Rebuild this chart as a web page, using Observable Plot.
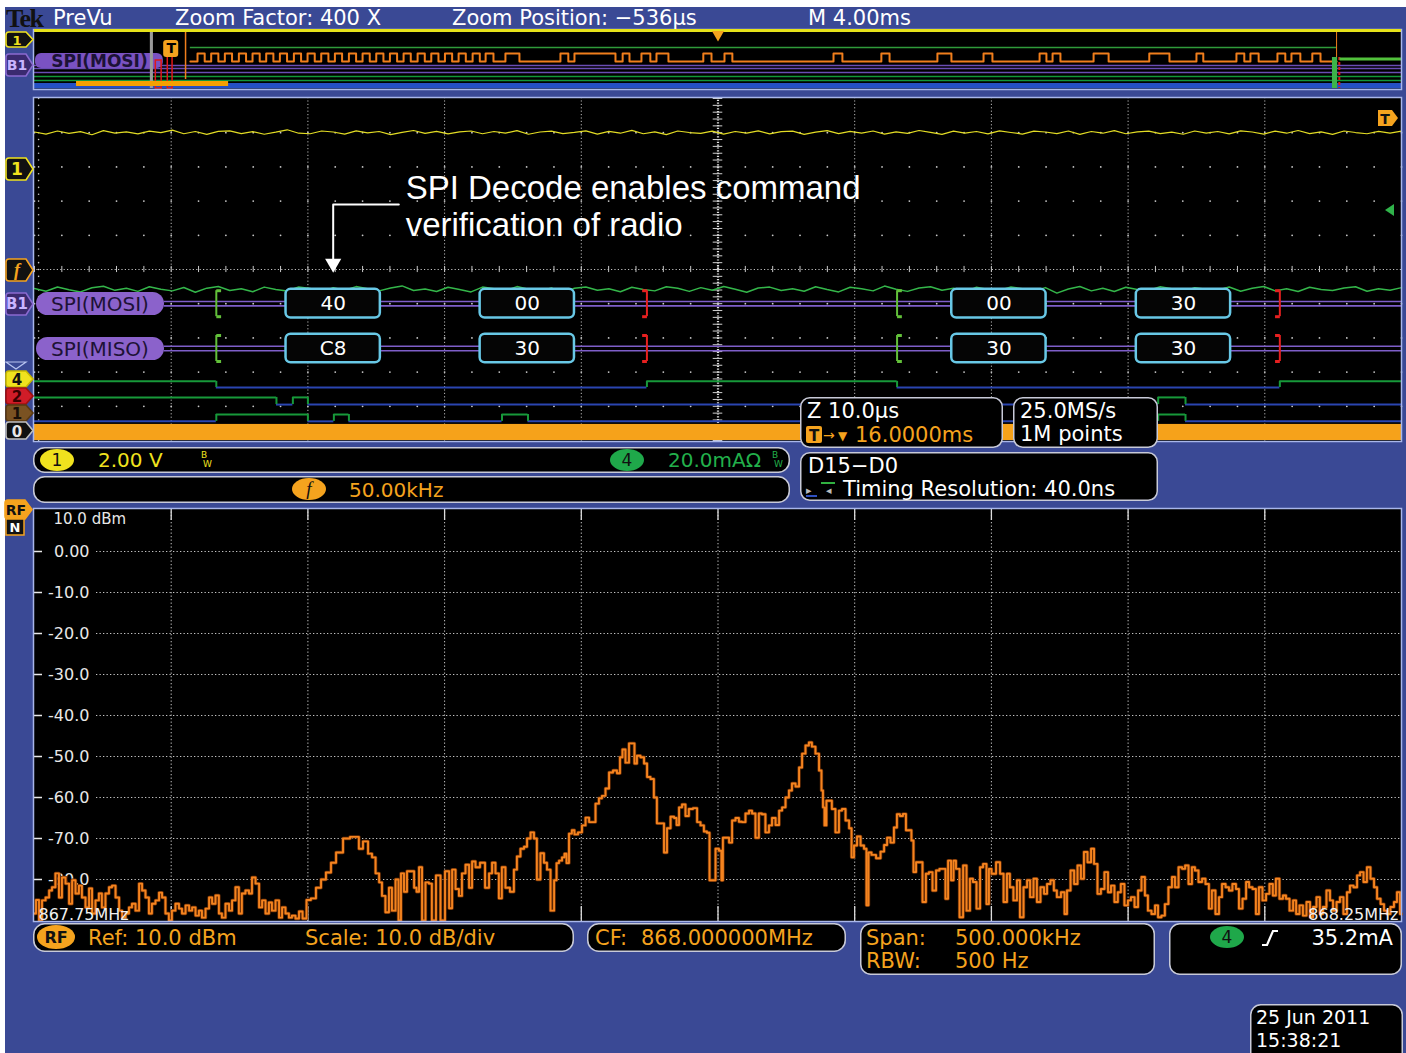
<!DOCTYPE html>
<html><head><meta charset="utf-8">
<script src="https://cdn.jsdelivr.net/npm/d3@7"></script>
<script src="https://cdn.jsdelivr.net/npm/@observablehq/plot@0.6"></script>
<style>
html,body{margin:0;padding:0;background:#fff;}
#screen{position:relative;width:1406px;height:1053px;overflow:hidden;background:#fff;}
#bg{position:absolute;left:5px;top:7px;right:0;bottom:0;background:#3a4995;}
</style></head><body><div id="screen"><div id="bg"></div></div>
<script>
// ---------------- DATA ----------------
// Spectrum trace (offset from 867.75 MHz, kHz) and level (dBm)
const freqOffsetKHz = [
0,1.1,2.2,3.3,4.8,5.9,6.9,8.4,9.5,10.6,
12.1,13.2,14.3,15.7,16.8,17.9,19.4,20.5,21.6,23.0,
24.1,25.2,26.7,27.8,28.9,30.4,31.5,32.6,34.0,35.1,
36.2,37.7,38.8,39.9,41.3,42.4,43.5,45.0,46.1,47.2,
48.6,49.7,50.8,52.3,53.4,54.5,56.0,57.1,58.2,59.6,
60.7,61.8,63.3,64.4,65.5,66.9,68.0,69.1,70.6,71.7,
72.8,74.2,75.3,76.4,77.9,79.0,80.1,81.6,82.7,83.8,
85.2,86.3,87.4,88.9,90.0,91.1,92.5,93.6,94.7,96.2,
97.3,98.8,100.2,102.0,103.9,105.7,107.5,109.4,111.2,114.5,
116.3,118.1,119.2,121.1,122.9,124.0,125.5,126.6,127.6,129.1,
130.2,131.3,132.8,133.5,134.6,135.7,136.8,138.3,139.4,140.1,
141.2,142.3,143.7,144.8,145.9,147.8,149.2,151.1,152.2,153.3,
154.7,155.8,156.9,158.4,159.5,160.6,162.0,163.9,165.7,166.8,
167.9,169.3,170.4,171.5,173.0,174.8,175.9,177.0,178.5,179.6,
180.7,182.2,183.2,184.3,185.8,186.9,188.0,189.5,190.6,191.3,
192.4,193.5,194.2,195.0,196.0,197.1,197.9,199.7,200.8,202.3,
203.4,204.5,205.9,207.0,208.1,209.6,210.7,212.5,213.6,214.7,
215.4,216.9,218.0,219.1,219.8,220.9,222.4,223.5,224.6,226.0,
227.1,228.2,229.7,230.8,231.9,233.4,234.5,235.2,236.3,237.4,
238.8,239.9,241.8,242.9,244.3,245.4,246.5,247.3,248.4,249.8,
250.9,251.6,252.0,253.5,254.6,255.7,257.1,258.2,259.3,260.8,
261.9,263.0,264.4,265.5,266.6,268.1,269.2,270.3,271.8,272.9,
274.0,275.4,276.5,277.6,279.1,280.2,281.3,282.7,283.8,284.9,
286.4,287.5,288.2,288.6,289.3,290.0,291.1,292.2,293.7,294.8,
295.9,297.4,298.5,299.2,300.3,301.4,302.9,303.9,304.7,305.4,
306.9,308.7,310.2,311.3,312.4,313.8,314.9,316.0,317.1,318.2,
319.3,320.4,321.1,321.9,323.0,324.1,325.5,326.6,327.7,329.2,
330.3,331.7,332.8,333.6,334.7,335.8,336.5,337.6,339.1,340.2,
341.6,342.7,343.8,345.3,346.4,347.5,348.9,349.3,350.8,352.6,
353.7,355.2,356.2,357.3,358.8,359.9,361.0,362.5,363.6,364.7,
366.1,367.2,368.7,369.8,370.9,372.3,373.4,374.5,376.4,377.1,
378.2,379.7,380.8,382.2,383.3,384.4,385.9,387.0,388.1,389.5,
390.6,392.1,393.2,394.3,395.7,396.8,397.9,399.4,400.5,401.6,
403.1,404.2,405.6,406.7,407.8,409.3,410.4,411.5,412.9,414.0,
415.5,416.6,417.7,419.2,420.3,421.4,422.8,423.9,425.0,426.5,
427.6,429.0,430.1,431.2,432.7,433.8,434.9,436.4,437.4,438.9,
440.0,441.1,442.6,443.7,444.8,446.2,447.3,448.4,449.9,451.0,
452.4,453.5,454.6,456.1,457.2,458.3,459.8,460.9,462.0,463.4,
464.5,466.0,467.1,468.2,469.6,470.7,471.8,473.3,474.4,475.5,
477.0,478.0,479.5,480.6,481.7,483.2,484.3,485.4,486.8,487.9,
489.4,490.5,491.6,493.1,494.1,495.2,496.7,497.8,498.9,500.0];
const levelDBm = [
-88.3,-85,-90,-85.1,-84.4,-82.7,-81.9,-78.5,-84.4,-79.5,
-81,-85.9,-80.2,-83.4,-81.5,-84.4,-86.8,-82.2,-88.3,-85.1,
-83.4,-86.8,-83.4,-81.9,-81.5,-84.4,-87.6,-89.3,-88.3,-86.8,
-85.9,-87.6,-81,-82.7,-84.4,-88.3,-85.9,-85.1,-83.2,-84.4,
-88.3,-90,-87.6,-85.9,-87.1,-88.3,-86.3,-87.6,-86.8,-88.8,
-87.6,-89.3,-87.1,-84.4,-85.9,-83.9,-88.3,-89.3,-85.9,-87.6,
-85.1,-81.9,-88.3,-83.4,-82.7,-83.4,-79.5,-81,-86.8,-85.1,
-88.3,-85.6,-87.6,-85.1,-89.3,-86.8,-88.3,-89.3,-88.8,-89.5,
-87.8,-89.5,-85,-84.6,-82,-80,-78.3,-75.9,-73.4,-70,
-69.6,-69.6,-72.5,-70.7,-73.7,-74.6,-78.5,-80.7,-84,-88,
-82,-87.6,-80,-90,-78.5,-83,-78,-78,-82,-83,
-77,-90,-80.7,-81,-90,-79,-90,-78,-87,-77.6,
-82.3,-84,-78.5,-76.4,-82,-75.6,-77,-75.9,-82,-78.5,
-75.9,-78.5,-84.6,-77,-82,-83,-77.6,-74.4,-72.5,-72,
-70,-68.5,-70,-80,-73.6,-75.9,-77.6,-87.6,-80.2,-76,
-75.4,-74.6,-73.7,-76,-68.8,-68,-69,-68.5,-66.8,-64.9,
-66,-66,-61.5,-60.2,-59.6,-57.8,-53.9,-53.4,-54.1,-50.2,
-48.3,-51.5,-46.8,-46.8,-51.7,-49.8,-50.2,-51.7,-55,-55.5,
-60,-66.3,-66.3,-73.4,-67.5,-64.7,-65,-66.7,-62.4,-61.7,
-64.5,-62.8,-62.6,-66,-66.8,-68.3,-68.6,-80.2,-80.2,-72.5,
-73,-80.2,-69.8,-69.8,-71,-65.6,-65,-65.9,-66,-63.9,
-63.2,-63.9,-69.8,-63.9,-64.1,-68.5,-66.8,-65,-66.7,-63.2,
-62.4,-60,-58.3,-56.6,-57.3,-52.7,-49.3,-47.3,-46.6,-47.6,
-49.3,-53.4,-58.3,-62.4,-66.8,-60.8,-60.8,-62.8,-68.5,-63.2,
-62.8,-65.6,-67.5,-74.6,-71.7,-69.5,-71.7,-72.5,-86.3,-73.4,
-74,-74.8,-73.2,-71.6,-69.8,-71,-67.3,-64.1,-64.5,-64,
-68,-68,-70.5,-78.2,-75.8,-75.8,-85.5,-78.6,-78.2,-82.7,
-77.8,-77.4,-77.4,-84.7,-75.4,-80.2,-75.4,-77.4,-89.2,-76.6,
-87.6,-79.8,-80.6,-87.1,-77,-76.2,-86,-77.4,-78.6,-75.8,
-78.6,-85.5,-78.6,-81.9,-85.1,-80.2,-89.2,-81.9,-80.2,-84.3,
-79.8,-85.5,-81.9,-83.5,-81.1,-80.2,-82.7,-84.3,-83.1,-88.4,
-82.7,-77.8,-81.1,-76.6,-79.8,-73.3,-75.8,-72.5,-76.2,-83.5,
-82.3,-78.2,-83.1,-81.5,-85.5,-83.1,-81.1,-86.3,-85.1,-84.3,
-86.7,-82.7,-79.4,-83.9,-87.6,-88.4,-86.3,-89.2,-88.8,-86,
-81.9,-79.4,-81.9,-77,-77.4,-76.6,-81.1,-77,-77.8,-80.6,
-79.8,-81.1,-87.1,-82.7,-88.4,-84.3,-81.1,-81.9,-82.7,-81.1,
-82.3,-87.1,-84.7,-80.6,-81.9,-82.3,-88.4,-81.9,-85.1,-83.5,
-81.1,-83.9,-79.8,-84.7,-83.9,-84.7,-87.6,-85.1,-88.4,-86.3,
-88.8,-85.5,-89.2,-86.7,-84.3,-88.4,-86.7,-82.7,-85.1,-87.6,
-85.5,-84.3,-88.4,-83.1,-81.5,-81.9,-79,-78.2,-80.6,-77,
-79.8,-81.9,-84.7,-86,-87.6,-88.4,-86.7,-85.5,-83.1,-88.4];
const spanStartMHz = 867.75, spanStopMHz = 868.25;
const freqGridMHz = [867.80,867.85,867.90,867.95,868.00,868.05,868.10,868.15,868.20];
const dbmTicks = [0,-10,-20,-30,-40,-50,-60,-70,-80];
const dbmTickLabels = ["0.00","-10.0","-20.0","-30.0","-40.0","-50.0","-60.0","-70.0","-80.0"];

// Zoomed time window (µs), 10 µs/div
const packetStartUs = [-31.6,-17.4,17.1,30.6];
const packetEndUs   = [-24.7,-10.5,24.0,37.5];
const mosiValues = ["40","00","00","30"];
const misoValues = ["C8","30","30","30"];
const frameStartUs = [-36.7,13.1];
const frameEndUs = [-5.2,41.1];
// digital channels: initial state + transition times (µs)
const digA = {label:"4", init:true,  edges:[-36.7,-5.2,13.1,41.1]};
const digB = {label:"2", init:true,  edges:[-32.3,-31.1,-30.0,32.2,34.2]};
const digC = {label:"1", init:false, edges:[-36.7,-30.0,-28.1,-27.0,-15.8,-13.9,32.2,34.2]};
// analog channel samples across the 100 µs window
const ch1Volts = [2.20,2.08,2.26,2.12,2.22,2.04,2.28,2.14,2.21,2.09,2.25,2.16,2.31,2.10,2.23,2.06,2.24,2.27,2.11,2.22,2.07,2.19,2.33,2.13,2.10,2.26,2.20,2.08,2.27,2.15,2.23,2.05,2.18,2.29,2.12,2.24,2.09,2.21,2.26,2.10,2.23,2.14,2.28,2.07,2.20,2.25,2.11,2.18,2.27,2.08,2.24,2.13,2.30,2.10,2.21,2.05,2.26,2.17,2.12,2.25,2.08,2.23,2.14,2.27,2.09,2.22,2.25,2.06,2.19,2.28,2.11,2.24,2.14,2.26,2.08,2.21,2.12,2.29,2.18,2.06,2.25,2.13,2.23,2.09,2.27,2.17,2.08,2.25,2.20,2.11,2.26,2.06,2.23,2.13,2.28,2.10,2.21,2.25,2.11,2.19,2.07,2.26,2.14,2.23,2.09,2.27,2.20,2.08,2.25,2.13,2.29,2.11,2.21,2.06,2.26,2.17,2.10,2.24,2.13,2.25];
const ch4mA = [35.6,34.0,36.5,34.9,33.6,36.0,36.9,34.5,35.7,33.9,36.6,35.2,34.2,36.2,33.4,35.8,36.8,34.4,35.5,33.7,36.4,35.0,34.1,36.5,35.6,33.3,36.0,34.6,36.7,35.4,34.2,35.9,37.1,34.4,35.3,33.8,36.3,35.0,33.6,36.4,35.5,34.3,36.7,35.2,34.0,35.9,32.8,35.7,36.5,34.6,35.5,33.7,36.3,35.0,34.2,36.6,35.7,33.9,36.1,34.6,36.8,35.2,33.4,35.9,36.4,34.4,35.5,34.0,36.6,35.0,33.6,36.3,35.5,34.2,37.0,35.2,33.9,35.9,36.6,34.6,35.7,33.5,36.3,35.0,34.4,36.5,35.5,34.0,36.1,32.9,35.3,36.8,34.2,35.7,33.8,36.3,35.0,34.4,36.6,35.5,33.7,36.1,35.2,34.6,36.5,34.0,35.7,36.8,34.2,35.5,33.8,36.3,35.0,34.4,35.9,36.6,34.0,35.5,34.6,36.1];
const annotationText = "SPI Decode enables command\nverification of radio";

// Overview record (ms), 4 ms/div
const pulseStartMs = [4.77,5.17,5.57,5.98,6.38,6.78,7.18,7.59,7.99,8.39,8.79,9.20,9.60,10.00,10.40,10.80,11.21,11.61,12.01,12.41,12.82,
  13.20,13.78,15.39,15.80,17.21,17.76,18.20,19.57,20.19,23.38,24.78,26.42,27.77,29.41,29.79,30.99,32.62,34.00,35.17,35.58,36.37,36.78,37.39];
const pulseEndMs = [4.98,5.38,5.78,6.19,6.59,6.99,7.39,7.80,8.20,8.60,9.00,9.41,9.81,10.21,10.61,11.01,11.42,11.82,12.22,12.62,13.03,
  13.43,14.19,15.62,17.00,17.41,18.02,18.55,19.81,20.42,23.64,25.02,26.83,28.03,29.61,30.02,31.43,33.21,34.20,35.40,35.82,36.60,37.04,37.63];
const recordStartMs = 4.56, recordEndMs = 38.1, overviewTriggerMs = 20;

// ---------------- STYLE ----------------
const FONT = '"DejaVu Sans", "Noto Sans", sans-serif';
const ORANGE = "#f5a31e", YEL = "#f0e21e", GRN = "#1ea84a", BLUE = "#2a45b0", CYAN = "#68c8e6", PURP = "#7e5ec8";
const screen = document.getElementById("screen");
function place(el, x, y){ el.style.position="absolute"; el.style.left=x+"px"; el.style.top=y+"px"; screen.appendChild(el); }

// ---------------- OVERVIEW ----------------
(function(){
  const hi = 24, lo = 32;
  const pts = [{t:recordStartMs, v:lo}];
  pulseStartMs.forEach((s,i)=>{ pts.push({t:s,v:hi}); pts.push({t:pulseEndMs[i],v:lo}); });
  pts.push({t:recordEndMs, v:lo});
  const ov = Plot.plot({
    width:1369, height:61, margin:0,
    x:{domain:[0,40], range:[1,1368], axis:null},
    y:{domain:[0,61], range:[0,61], axis:null},
    style:{background:"#000", overflow:"visible", fontFamily:FONT},
    marks:[
      Plot.rect([0],{x1:0,x2:40,y1:54,y2:59.5,fill:"#2450c4"}),
      Plot.ruleY([36,39,43],{stroke:"#6a4cb4",strokeWidth:1.5}),
      Plot.ruleY([47,51],{stroke:"#12983a",strokeWidth:1.6}),
      Plot.ruleY([18],{x1:recordStartMs,x2:recordEndMs,stroke:"#2f9a3a",strokeWidth:1.4}),
      Plot.line(pts,{x:"t",y:"v",curve:"step-after",stroke:"#f07e1c",strokeWidth:2}),
      Plot.rect([0],{x1:0.03,x2:3.77,y1:24,y2:39,fill:"#7a52c2",rx:6}),
      Plot.text(["SPI(MOSI)"],{x:1.9,y:32,fill:"#1c1236",fontSize:17,fontWeight:"bold"}),
      Plot.rect([0],{x1:3.39,x2:3.48,y1:3,y2:59,fill:"#9a9a9a"}),
      Plot.rect([0],{x1:3.55,x2:3.72,y1:31,y2:59,stroke:"#e01818",fill:"none",strokeWidth:1.5}),
      Plot.rect([0],{x1:3.90,x2:4.04,y1:27,y2:59,stroke:"#e01818",fill:"none",strokeWidth:1.5}),
      Plot.rect([0],{x1:1.23,x2:5.68,y1:52,y2:57,fill:"#f5a000"}),
      Plot.ruleX([4.42],{y1:2,y2:50,stroke:"#f07e1c",strokeWidth:1.5}),
      Plot.rect([0],{x1:3.78,x2:4.22,y1:11,y2:28,fill:ORANGE,rx:3}),
      Plot.text(["T"],{x:4.0,y:19.5,fill:"#000",fontSize:14,fontWeight:"bold"}),
      Plot.ruleX([recordEndMs],{y1:1,y2:28,stroke:"#f07e1c",strokeWidth:1}),
      Plot.rect([0],{x1:37.98,x2:38.13,y1:28,y2:59,fill:"#3cb44a"}),
      Plot.ruleX([38.18],{y1:28,y2:59,stroke:"#e01818",strokeWidth:2,strokeDasharray:"3,2"}),
      Plot.ruleY([29.5],{x1:38.2,x2:40,stroke:"#52c23c",strokeWidth:3}),
      Plot.ruleY([1.5],{stroke:"#e6e21a",strokeWidth:2}),
      Plot.dot([overviewTriggerMs],{x:d=>d,y:5,symbol:"triangle",rotate:180,r:4.5,fill:ORANGE})
    ]
  });
  place(ov,33,29);
})();

// ---------------- MAIN WAVEFORM ----------------
(function(){
  const ch1Zero = 2.08, ch1VperDiv = 2.0;       // div positions
  const ch4Zero = 7.335, ch4mAperDiv = 20;
  const mosiY = 6.0, misoY = 7.31;
  const dt1 = 100/(ch1Volts.length-1), dt4 = 100/(ch4mA.length-1);
  const packets = packetStartUs.map((s,i)=>({s, e:packetEndUs[i], mosi:mosiValues[i], miso:misoValues[i]}));
  const majorX = [-40,-30,-20,-10,10,20,30,40];
  const minorX = d3.range(-50,50.01,2);
  const minorY = d3.range(0,10.01,0.2);
  const rowDots = d3.cross(minorX,[1,2,3,4,6,7,8,9]).map(([x,y])=>({x,y}));
  const colDots = d3.cross([-49.7],minorY).map(([x,y])=>({x,y}));
  const levels = [[digA,8.27,8.45],[digB,8.74,8.95],[digC,9.24,9.44]];
  const segMarks = [];
  levels.forEach(([ch,hi,lo])=>{
    const t=[-50,...ch.edges,50];
    const segs=d3.range(t.length-1).map(i=>({t1:t[i],t2:t[i+1],high:(i%2===0)===ch.init}));
    segMarks.push(Plot.ruleY(segs.filter(d=>!d.high),{x1:"t1",x2:"t2",y:lo,stroke:BLUE,strokeWidth:2}));
    segMarks.push(Plot.ruleY(segs.filter(d=>d.high),{x1:"t1",x2:"t2",y:hi,stroke:"#17993a",strokeWidth:2}));
    segMarks.push(Plot.ruleX(ch.edges,{y1:hi,y2:lo,stroke:"#17993a",strokeWidth:2}));
  });
  const bracket = (xs,dir,col,yc)=>[
    Plot.ruleX(xs,{y1:yc-0.38,y2:yc+0.38,stroke:col,strokeWidth:2}),
    Plot.link(xs,{x1:d=>d,x2:d=>d+dir*0.35,y1:yc-0.38,y2:yc-0.38,stroke:col,strokeWidth:3}),
    Plot.link(xs,{x1:d=>d,x2:d=>d+dir*0.35,y1:yc+0.38,y2:yc+0.38,stroke:col,strokeWidth:3})
  ];
  const arrowX = (packetStartUs[0]+packetEndUs[0])/2;
  const main = Plot.plot({
    width:1369, height:345, margin:0,
    x:{domain:[-50,50], range:[1,1368], axis:null},
    y:{domain:[0,10], range:[1,343], axis:null},
    style:{background:"#000", overflow:"visible", fontFamily:FONT, color:"#fff"},
    marks:[
      Plot.ruleX(majorX,{stroke:"#b8b8b8",strokeDasharray:"1.2,2.2",strokeWidth:1}),
      Plot.dot(rowDots,{x:"x",y:"y",r:0.9,fill:"#c8c8c8"}),
      Plot.dot(colDots,{x:"x",y:"y",r:0.8,fill:"#c8c8c8"}),
      Plot.ruleY([5],{stroke:"#c0c0c0",strokeDasharray:"1.2,2.2"}),
      Plot.ruleX(minorX,{y1:4.91,y2:5.09,stroke:"#c8c8c8"}),
      Plot.ruleX([0],{stroke:"#e0e0e0",strokeDasharray:"1.2,1.6",strokeWidth:2.2}),
      Plot.ruleY(minorY,{x1:-0.35,x2:0.35,stroke:"#d0d0d0"}),
      // analog traces
      Plot.line(ch1Volts,{x:(d,i)=>-50+i*dt1,y:v=>ch1Zero-v/ch1VperDiv,stroke:"#e2dc24",strokeWidth:1.2}),
      Plot.line(ch4mA,{x:(d,i)=>-50+i*dt4,y:v=>ch4Zero-v/ch4mAperDiv,stroke:"#34b64a",strokeWidth:1.5}),
      // buses
      Plot.ruleY([mosiY-0.065,mosiY+0.065,misoY-0.065,misoY+0.065],{x1:-40.5,x2:50,stroke:PURP,strokeWidth:1.6}),
      ...bracket(frameStartUs,1,"#62c03a",mosiY), ...bracket(frameStartUs,1,"#62c03a",misoY),
      ...bracket(frameEndUs,-1,"#e62020",mosiY), ...bracket(frameEndUs,-1,"#e62020",misoY),
      Plot.rect(packets,{x1:"s",x2:"e",y1:mosiY-0.42,y2:mosiY+0.42,fill:"#050505",stroke:CYAN,strokeWidth:2.5,rx:5}),
      Plot.rect(packets,{x1:"s",x2:"e",y1:misoY-0.42,y2:misoY+0.42,fill:"#050505",stroke:CYAN,strokeWidth:2.5,rx:5}),
      Plot.text(packets,{x:d=>(d.s+d.e)/2,y:mosiY,text:"mosi",fill:"#fff",fontSize:20}),
      Plot.text(packets,{x:d=>(d.s+d.e)/2,y:misoY,text:"miso",fill:"#fff",fontSize:20}),
      // digital
      ...segMarks,
      Plot.rect([0],{x1:-50,x2:50,y1:9.53,y2:10,fill:"#f6a21a"}),
      // annotation
      Plot.line([[arrowX+4.8,3.1],[arrowX,3.1],[arrowX,4.8]],{x:d=>d[0],y:d=>d[1],stroke:"#fff",strokeWidth:2}),
      Plot.dot([arrowX],{x:d=>d,y:4.82,symbol:"triangle",rotate:180,r:6,fill:"#fff"}),
      Plot.text([annotationText],{x:arrowX+5.3,y:2.16,text:d=>d,lineAnchor:"top",textAnchor:"start",fontSize:33,lineHeight:1.12,fill:"#fff",fontFamily:'"Liberation Sans", Arial, sans-serif'})
    ]
  });
  place(main,33,97);
})();

// ---------------- SPECTRUM ----------------
(function(){
  const spec = freqOffsetKHz.map((k,i)=>({f:spanStartMHz+k/1000, db:levelDBm[i]}));
  const sp = Plot.plot({
    width:1369, height:414, margin:0,
    x:{domain:[spanStartMHz,spanStopMHz], range:[1,1368], axis:null},
    y:{domain:[-90,10], range:[412,2], axis:null},
    style:{background:"#000", overflow:"visible", fontFamily:FONT, color:"#fff"},
    marks:[
      Plot.ruleX(freqGridMHz,{stroke:"#c4c4c4",strokeDasharray:"1.3,2.2"}),
      Plot.tickX(freqGridMHz,{stroke:"#dcdcdc",insetBottom:402,strokeWidth:1.3}),
      Plot.tickX(freqGridMHz,{stroke:"#dcdcdc",insetTop:398,strokeWidth:1.3}),
      Plot.tickY(dbmTicks,{stroke:"#c4c4c4",strokeDasharray:"1.3,2.2",insetLeft:63}),
      Plot.tickY(dbmTicks,{stroke:"#e8e8e8",insetLeft:1,insetRight:1360,strokeWidth:1.5}),
      Plot.text(dbmTicks,{x:spanStartMHz,y:d=>d,text:(d,i)=>dbmTickLabels[i],textAnchor:"end",dx:55,fill:"#e8e8e8",fontSize:16}),
      Plot.text(["10.0 dBm"],{frameAnchor:"top-left",dx:20,dy:5,lineAnchor:"top",fill:"#e8e8e8",fontSize:15}),
      Plot.line(spec,{x:"f",y:"db",curve:"step",stroke:"#6a2e06",strokeWidth:3.4}),
      Plot.line(spec,{x:"f",y:"db",curve:"step",stroke:"#f5841f",strokeWidth:1.9}),
      Plot.text([spanStartMHz.toFixed(2)+"MHz"],{frameAnchor:"bottom-left",dx:5,dy:-3,lineAnchor:"bottom",fill:"#f0f0f0",fontSize:16}),
      Plot.text([spanStopMHz.toFixed(2)+"MHz"],{frameAnchor:"bottom-right",dx:-4,dy:-3,lineAnchor:"bottom",textAnchor:"end",fill:"#f0f0f0",fontSize:16})
    ]
  });
  place(sp,33,508);
})();

// ---------------- CHROME / LABELS ----------------
const svg = d3.create("svg").attr("width",1406).attr("height",1053)
  .style("position","absolute").style("left","0px").style("top","0px").style("font-family",FONT);
screen.appendChild(svg.node());
function T(x,y,s,o={}){ return svg.append("text").attr("x",x).attr("y",y).text(s)
  .attr("fill",o.fill||"#fff").attr("font-size",o.size||21).attr("text-anchor",o.anchor||"start")
  .attr("font-family",o.family||FONT).attr("font-weight",o.weight||"normal").attr("font-style",o.italic?"italic":"normal"); }
function box(x,y,w,h,r=10){ svg.append("rect").attr("x",x+0.75).attr("y",y+0.75).attr("width",w-1.5).attr("height",h-1.5)
  .attr("rx",r).attr("fill","#000").attr("stroke","#c8cad8").attr("stroke-width",1.5); }
function ell(cx,cy,rx,ry,fill,label,o={}){ svg.append("ellipse").attr("cx",cx).attr("cy",cy).attr("rx",rx).attr("ry",ry).attr("fill",fill);
  T(cx,cy+(o.dy||6),label,{fill:"#111",size:o.size||17,anchor:"middle",italic:o.italic,family:o.family,weight:o.weight}); }
function pent(x,y,w,h,fill,stroke,label,tcol,o={}){
  const r=3;
  svg.append("path").attr("d",`M${x+r},${y}H${x+w-7}L${x+w},${y+h/2}L${x+w-7},${y+h}H${x+r}Q${x},${y+h} ${x},${y+h-r}V${y+r}Q${x},${y} ${x+r},${y}Z`)
    .attr("fill",fill).attr("stroke",stroke).attr("stroke-width",1.6);
  T(x+(w-7)/2+1,y+h/2+(o.dy||6),label,{fill:tcol,size:o.size||16,anchor:"middle",weight:o.weight||"bold",italic:o.italic,family:o.family});
}
// panel borders
svg.append("rect").attr("x",33.5).attr("y",29.5).attr("width",1368).attr("height",60).attr("fill","none").attr("stroke","#a8b6ea").attr("stroke-width",1.5);
svg.append("line").attr("x1",34).attr("x2",1401).attr("y1",30).attr("y2",30).attr("stroke","#e6e21a").attr("stroke-width",2);
svg.append("rect").attr("x",33.5).attr("y",97.5).attr("width",1368).attr("height",344).attr("fill","none").attr("stroke","#a8b6ea").attr("stroke-width",1.5);
svg.append("rect").attr("x",33.5).attr("y",508.5).attr("width",1368).attr("height",413).attr("fill","none").attr("stroke","#a8b6ea").attr("stroke-width",1.5);

// status bar
T(6,27,"Tek",{fill:"#111",size:26,weight:"bold",family:'"Liberation Serif", serif'}).attr("letter-spacing",-1.5);
T(53,25,"PreVu");
T(175,25,"Zoom Factor: 400 X");
T(452,25,"Zoom Position: −536µs");
T(808,25,"M 4.00ms");

// left markers
pent(6,32,27,15,"#111",YEL,"1",YEL,{size:13,dy:5});
pent(6,54,27,22,"#3a2a70","#8a6ad0","B1","#c8b4ff",{size:14,dy:5});
pent(6,158,27,22,"#111",YEL,"1",YEL,{size:17,dy:6});
pent(6,259,27,22,"#111",ORANGE,"f",ORANGE,{size:18,dy:6,italic:true,family:'"Liberation Serif", serif'});
pent(6,293,27,22,"#3a2a70","#8a6ad0","B1","#c8b4ff",{size:15,dy:5});
svg.append("path").attr("d","M6,362H26L16,369Z").attr("fill","none").attr("stroke","#b8c4f0").attr("stroke-width",1.2);
pent(6,371,27,16,YEL,"#c8b800","4","#111",{size:15,dy:6});
pent(6,388,27,16,"#d01c28","#a01010","2","#3a0000",{size:15,dy:6});
pent(6,405,27,16,"#7a5222","#5a3a12","1","#1a1008",{size:15,dy:6});
pent(6,422,27,17,"#111","#c0c0c0","0","#e8e8e8",{size:15,dy:6});
pent(5,500,27,19,ORANGE,ORANGE,"RF","#111",{size:14,dy:5});
svg.append("rect").attr("x",6).attr("y",519).attr("width",18).attr("height",16).attr("fill","#111").attr("stroke",ORANGE).attr("stroke-width",1.5);
T(15,532,"N",{size:13,anchor:"middle",weight:"bold"});

// bus label pills in main panel
[["SPI(MOSI)",292],["SPI(MISO)",337]].forEach(([s,y])=>{
  svg.append("rect").attr("x",36).attr("y",y).attr("width",128).attr("height",23).attr("rx",11.5).attr("fill","#8b62cb");
  T(100,y+19,s,{fill:"#1e1236",size:20,anchor:"middle"});
});
// trigger markers in main panel
svg.append("path").attr("d","M1378,110H1392L1398,118L1392,126H1378Z").attr("fill",ORANGE);
T(1385,124,"T",{fill:"#111",size:14,weight:"bold",anchor:"middle"});
svg.append("path").attr("d","M1385,210L1394,204V216Z").attr("fill","#2fb34a");

// info boxes (top)
box(33,447,757,26,11);
ell(57,460,17,11,YEL,"1",{size:17,dy:6});
T(98,467,"2.00 V",{fill:YEL,size:20});
T(201,458,"B",{fill:YEL,size:9}); T(203,467,"W",{fill:YEL,size:9});
ell(627,460,17,11,"#1fa84a","4",{size:17,dy:6});
T(668,467,"20.0mAΩ",{fill:"#22b04b",size:20});
T(772,458,"B",{fill:"#22b04b",size:9}); T(774,467,"W",{fill:"#22b04b",size:9});
box(33,476,757,27,11);
ell(309,489,17,11,ORANGE,"f",{size:19,dy:6,italic:true,family:'"Liberation Serif", serif'});
T(349,497,"50.00kHz",{fill:ORANGE,size:20});

box(800,397,203,51,9);
T(807,418,"Z 10.0µs");
svg.append("rect").attr("x",806).attr("y",426).attr("width",16).attr("height",17).attr("rx",2).attr("fill",ORANGE);
T(814,441,"T",{fill:"#111",size:15,weight:"bold",anchor:"middle"});
T(823,440,"→",{fill:ORANGE,size:14});
T(838,440,"▼",{fill:ORANGE,size:12});
T(855,442,"16.0000ms",{fill:ORANGE});
box(1013,397,145,51,9);
T(1020,418,"25.0MS/s");
T(1020,441,"1M points");
box(800,452,358,49,9);
T(808,473,"D15−D0");
svg.append("line").attr("x1",806).attr("x2",817).attr("y1",496).attr("y2",496).attr("stroke","#3050c0").attr("stroke-width",2);
svg.append("line").attr("x1",821).attr("x2",835).attr("y1",483).attr("y2",483).attr("stroke","#30b040").attr("stroke-width",2);
T(806,494,"▸",{fill:"#bbb",size:11}); T(826,494,"◂",{fill:"#bbb",size:11});
T(843,496,"Timing Resolution: 40.0ns");

// info boxes (bottom)
box(33,923,541,29,11);
ell(56,937,19,12,ORANGE,"RF",{size:16,dy:6,weight:"bold"});
T(88,945,"Ref: 10.0 dBm",{fill:ORANGE});
T(305,945,"Scale: 10.0 dB/div",{fill:ORANGE});
box(587,923,259,29,11);
T(595,945,"CF:",{fill:ORANGE});
T(641,945,"868.000000MHz",{fill:ORANGE});
box(860,923,295,52,10);
T(866,945,"Span:",{fill:ORANGE}); T(955,945,"500.000kHz",{fill:ORANGE});
T(866,968,"RBW:",{fill:ORANGE}); T(955,968,"500 Hz",{fill:ORANGE});
box(1169,923,233,52,10);
ell(1227,937,17,11,"#1fa84a","4",{size:17,dy:6});
svg.append("path").attr("d","M1262,945H1267L1273,931H1278").attr("fill","none").attr("stroke","#fff").attr("stroke-width",2.2);
T(1393,945,"35.2mA",{anchor:"end"});
box(1250,1004,153,62,10);
T(1256,1024,"25 Jun 2011",{size:19});
T(1256,1047,"15:38:21",{size:19});

if (freqOffsetKHz.length !== levelDBm.length) console.error("length mismatch", freqOffsetKHz.length, levelDBm.length);
</script></body></html>
